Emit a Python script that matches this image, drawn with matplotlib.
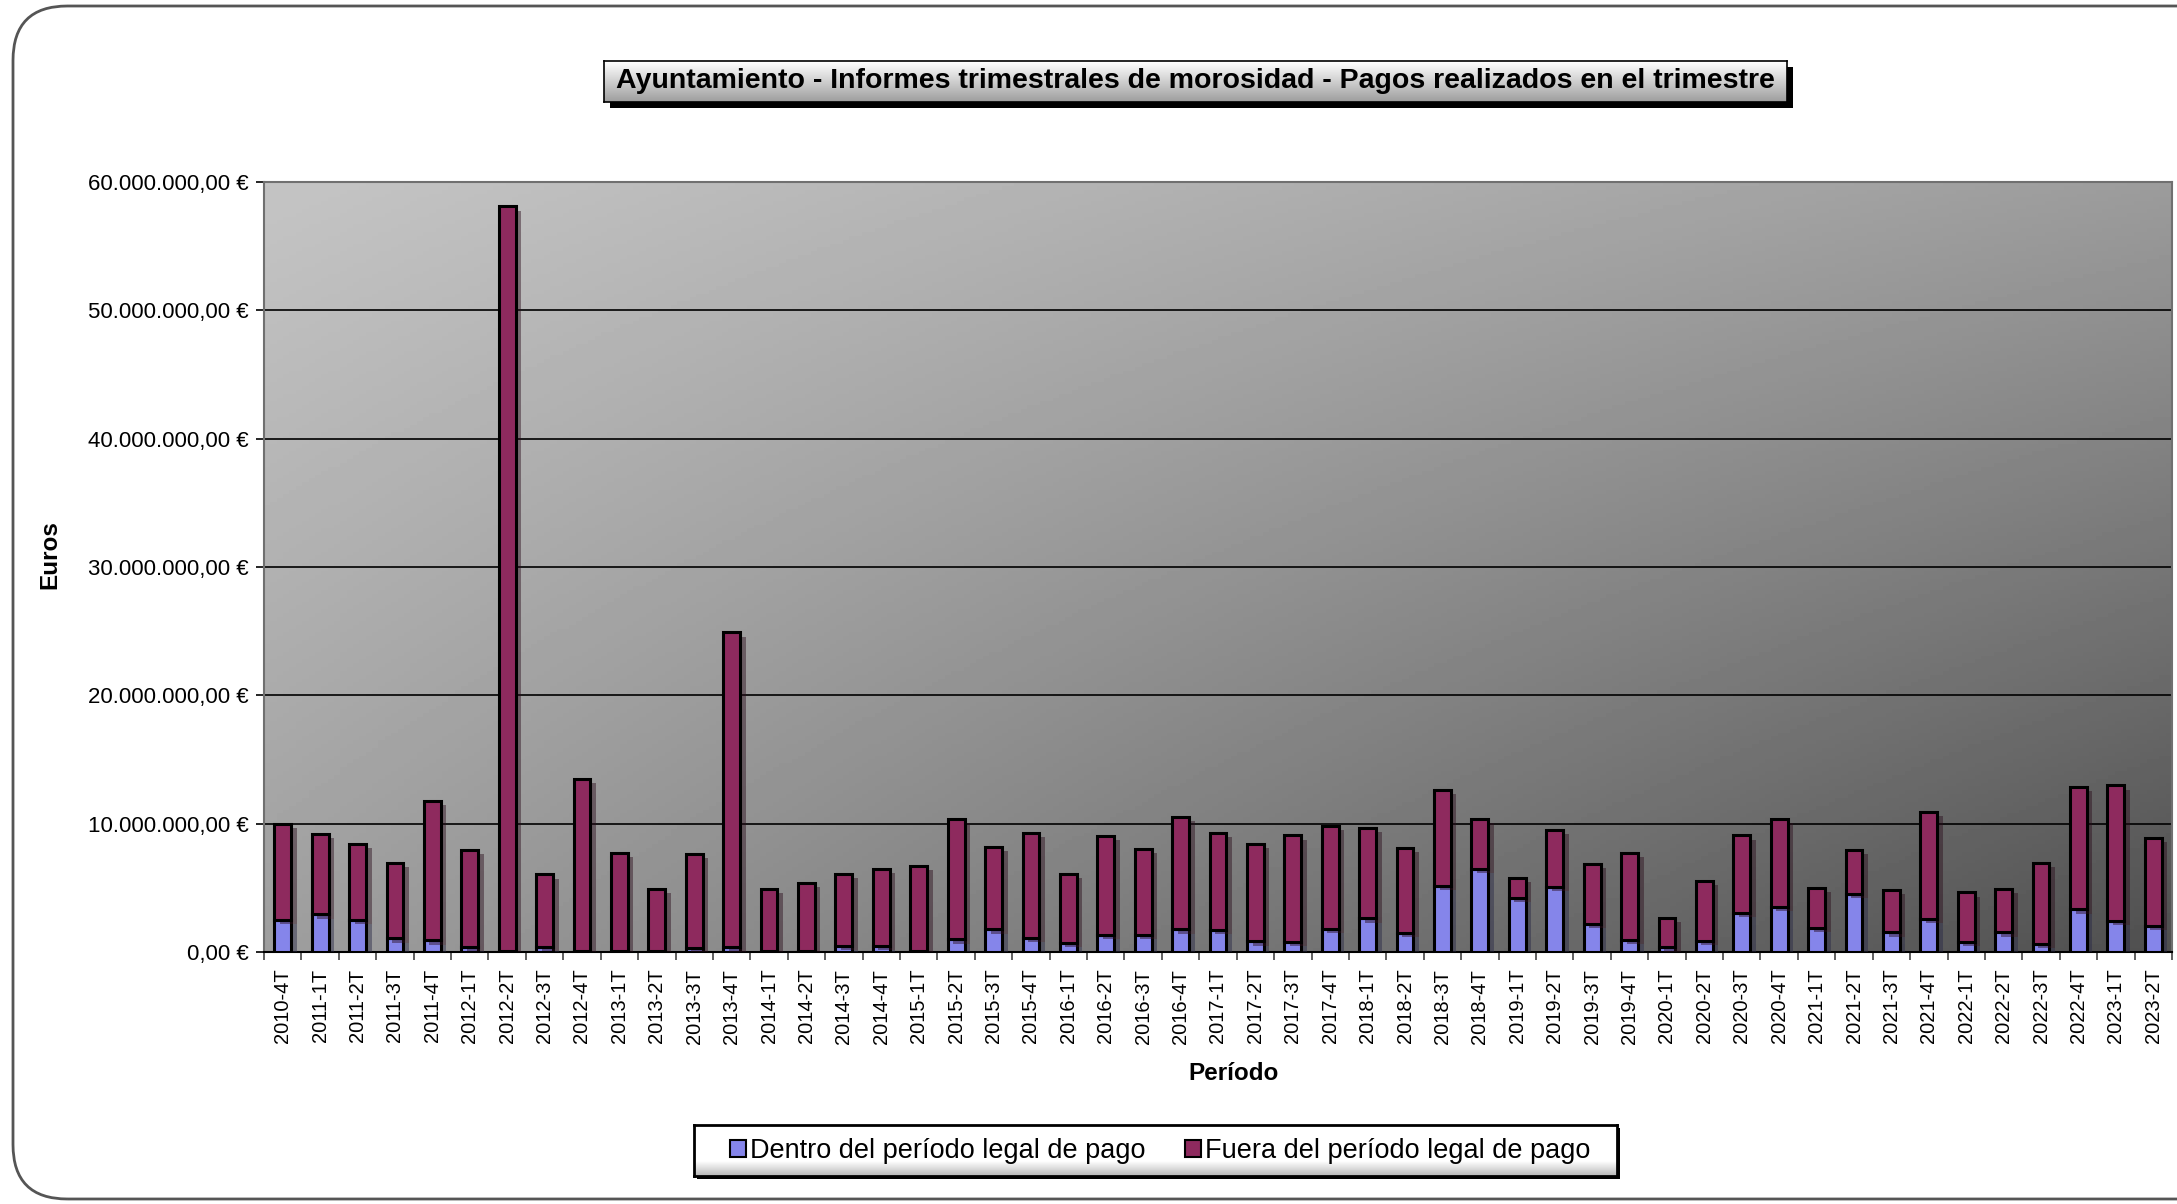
import numpy as np
import matplotlib
matplotlib.use('Agg')
import matplotlib.pyplot as plt
import matplotlib.ticker as tick
import matplotlib.patheffects as pe
from matplotlib.patches import FancyBboxPatch, Rectangle

plt.rcParams['font.family'] = ['Liberation Sans', 'DejaVu Sans']

periods = [
    '2010-4T',
    '2011-1T', '2011-2T', '2011-3T', '2011-4T',
    '2012-1T', '2012-2T', '2012-3T', '2012-4T',
    '2013-1T', '2013-2T', '2013-3T', '2013-4T',
    '2014-1T', '2014-2T', '2014-3T', '2014-4T',
    '2015-1T', '2015-2T', '2015-3T', '2015-4T',
    '2016-1T', '2016-2T', '2016-3T', '2016-4T',
    '2017-1T', '2017-2T', '2017-3T', '2017-4T',
    '2018-1T', '2018-2T', '2018-3T', '2018-4T',
    '2019-1T', '2019-2T', '2019-3T', '2019-4T',
    '2020-1T', '2020-2T', '2020-3T', '2020-4T',
    '2021-1T', '2021-2T', '2021-3T', '2021-4T',
    '2022-1T', '2022-2T', '2022-3T', '2022-4T',
    '2023-1T', '2023-2T',
]

# millions of euros
total = [
    10.0,
    9.2, 8.45, 6.94, 11.8,
    7.93, 58.1, 6.04, 13.5,
    7.75, 4.9, 7.64, 24.9,
    4.9, 5.39, 6.11, 6.5,
    6.71, 10.34, 8.19, 9.3,
    6.09, 9.02, 8.03, 10.5,
    9.3, 8.42, 9.09, 9.84,
    9.69, 8.13, 12.6, 10.36,
    5.8, 9.53, 6.87, 7.75,
    2.67, 5.52, 9.09, 10.39,
    5.0, 7.93, 4.87, 10.9,
    4.64, 4.92, 6.92, 12.88,
    12.98, 8.91,
]
dentro = [
    2.49,
    2.93, 2.49, 1.06, 0.9,
    0.41, 0.1, 0.39, 0.1,
    0.05, 0.1, 0.28, 0.36,
    0.05, 0.1, 0.49, 0.49,
    0.1, 0.98, 1.76, 1.11,
    0.73, 1.3, 1.3, 1.76,
    1.71, 0.83, 0.78, 1.81,
    2.62, 1.48, 5.13, 6.45,
    4.22, 5.05, 2.2, 0.91,
    0.36, 0.88, 3.06, 3.5,
    1.87, 4.53, 1.53, 2.56,
    0.8, 1.53, 0.6, 3.32,
    2.41, 2.05,
]

W, H = 2177, 1204
BLUE = '#8585ea'
WINE = '#8e2a5e'


@tick.FuncFormatter
def euro_formatter(x, pos):
    s = f'{x:,.2f}'
    s = s.replace(',', 'X').replace('.', ',').replace('X', '.')
    return f'{s} €'


def fx(px):
    return px / W


def fy(py):
    return 1 - py / H


def shaded_box(x0, x1, y0, y1, grad, off, lw):
    # black drop shadow + gradient-filled box, pixel coords
    fig.patches.append(Rectangle((fx(x0 + off), fy(y1 + off)), fx(x1 - x0), (y1 - y0) / H,
                                 transform=fig.transFigure, facecolor='black',
                                 edgecolor='none', zorder=1))
    bax = fig.add_axes([fx(x0), fy(y1), fx(x1 - x0), (y1 - y0) / H], zorder=2)
    bax.imshow(np.array(grad).reshape(-1, 1), cmap='gray', vmin=0, vmax=1,
               aspect='auto', extent=(0, 1, 0, 1), interpolation='bilinear')
    bax.set_xticks([])
    bax.set_yticks([])
    for s in bax.spines.values():
        s.set_color('black')
        s.set_linewidth(lw)
    return bax


fig = plt.figure(figsize=(W / 100, H / 100), dpi=100)

# outer rounded frame
frame = FancyBboxPatch((fx(13), fy(1199)), fx(2300), (1199 - 6) / H,
                       boxstyle='round,pad=0,rounding_size=0.025',
                       transform=fig.transFigure, facecolor='none',
                       edgecolor='#555555', linewidth=2, zorder=-5,
                       mutation_aspect=W / H)
fig.patches.append(frame)

ax = fig.add_axes([fx(264), fy(952), fx(2172 - 264), (952 - 182) / H], zorder=1)

# gradient background of the plot area
gx, gy = np.meshgrid(np.linspace(0, 1, 300), np.linspace(0, 1, 200))
shade = 0.77 - 0.16 * gx - 0.15 * gy - 0.15 * gx * gy
ax.imshow(shade, cmap='gray', vmin=0, vmax=1, extent=(0, 1, 0, 1),
          transform=ax.transAxes, aspect='auto', zorder=0, origin='upper')

dentro = np.array(dentro) * 1e6
fuera = np.array(total) * 1e6 - dentro
x = np.arange(len(periods))

ax.yaxis.grid(True, color='black', linewidth=1.2, zorder=1)
ax.set_axisbelow(True)

shadow = [pe.SimplePatchShadow(offset=(4, -3), alpha=0.45), pe.Normal()]
b1 = ax.bar(x, dentro, width=0.45, color=BLUE, edgecolor='black',
            linewidth=2.2, zorder=3, label='Dentro del período legal de pago')
b2 = ax.bar(x, fuera, width=0.45, bottom=dentro, color=WINE,
            edgecolor='black', linewidth=2.2, zorder=3,
            label='Fuera del período legal de pago')
for bar in list(b1) + list(b2):
    bar.set_path_effects(shadow)

ax.set_xlim(-0.5, len(periods) - 0.5)
ax.set_ylim(0, 60e6)
ax.yaxis.set_major_locator(tick.MultipleLocator(10e6))
ax.yaxis.set_major_formatter(euro_formatter)
ax.set_xticks(x)
ax.set_xticklabels(periods, rotation=90, fontsize=14.5)
ax.set_xticks(np.arange(len(periods) + 1) - 0.5, minor=True)
ax.tick_params(axis='x', which='major', length=0, pad=12)
ax.tick_params(axis='x', which='minor', length=6, width=1.2, color='#444444')
ax.tick_params(axis='y', length=6, width=1.2, pad=5, labelsize=16)

for side in ['left', 'top', 'right']:
    ax.spines[side].set_color('#707070')
    ax.spines[side].set_linewidth(1.5)
ax.spines['bottom'].set_color('black')
ax.spines['bottom'].set_linewidth(1.5)

# title box
tax = shaded_box(604, 1787, 61, 102, np.linspace(1.0, 0.62, 50), 6, 1.2)
tax.text(0.5, 0.5, 'Ayuntamiento - Informes trimestrales de morosidad - Pagos realizados en el trimestre',
         transform=tax.transAxes, ha='center', va='center', fontsize=20.5,
         fontweight='bold')

fig.text(fx(50), fy(555), 'Euros', rotation=90, ha='center', va='center',
         fontsize=17.5, fontweight='bold')
fig.text(fx(1234), fy(1073), 'Período', ha='center', va='center',
         fontsize=17.5, fontweight='bold')

# legend box
lgrad = np.concatenate([np.ones(35), np.linspace(1.0, 0.72, 15)])
shaded_box(694, 1617, 1125, 1176, lgrad, 3, 2)
leg = fig.legend(handles=[b1, b2], loc='center', ncol=2,
                 bbox_to_anchor=(fx(1160), fy(1151)), fontsize=19.5,
                 frameon=False, handlelength=0.6, handleheight=0.6,
                 handletextpad=0.15, columnspacing=1.45, borderaxespad=0)
leg.set_zorder(5)
for h in leg.legend_handles:
    h.set_path_effects([])
    h.set_linewidth(1.5)

fig.savefig('out.png', dpi=100)
